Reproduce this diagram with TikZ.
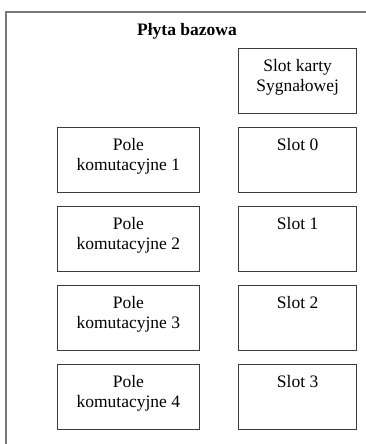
\documentclass[tikz,border=0pt]{standalone}
\usepackage{fontspec}
\setmainfont{Liberation Serif}
\usetikzlibrary{positioning}
\definecolor{framecolor}{RGB}{120,120,120}
\definecolor{boxcolor}{RGB}{60,60,60}

\begin{document}
\begin{tikzpicture}[x=1pt, y=-1pt,
    % Styles
    slot box/.style={draw=boxcolor, line width=1.3pt, minimum width=118pt, minimum height=65pt, inner sep=0},
    field box/.style={slot box, minimum width=142pt},
    box label/.style={font=\fontsize{17.5}{20.5}\selectfont, align=center, inner sep=0},
    board title/.style={font=\fontsize{17.5}{20}\selectfont\bfseries},
    board line/.style={draw=framecolor, line width=1.5pt},
    row gap/.style={below=12.7pt of #1},
]
    \useasboundingbox (0,0) rectangle (366,444);

    % === Board frame (runs off the right and bottom edge) ===
    \draw[board line] (370,12) -- (6,12) -- (6,448);
    \node[board title] (board-title) at (187,31) {Płyta bazowa};

    % === Slot column ===
    \node[slot box, anchor=north west] (slot-sig) at (238,48) {};
    \node[slot box, row gap=slot-sig] (slot-0) {};
    \node[slot box, row gap=slot-0] (slot-1) {};
    \node[slot box, row gap=slot-1] (slot-2) {};
    \node[slot box, row gap=slot-2] (slot-3) {};
    \node[box label, below=11pt of slot-sig.north] {Slot karty\\Sygnałowej};
    \node[box label, below=11pt of slot-0.north] {Slot 0};
    \node[box label, below=11pt of slot-1.north] {Slot 1};
    \node[box label, below=11pt of slot-2.north] {Slot 2};
    \node[box label, below=11pt of slot-3.north] {Slot 3};

    % === Switching fields, left of slots 0-3 ===
    \node[field box, left=38pt of slot-0] (field-1) {};
    \node[field box, left=38pt of slot-1] (field-2) {};
    \node[field box, left=38pt of slot-2] (field-3) {};
    \node[field box, left=38pt of slot-3] (field-4) {};
    \node[box label, below=11pt of field-1.north] {Pole\\komutacyjne 1};
    \node[box label, below=11pt of field-2.north] {Pole\\komutacyjne 2};
    \node[box label, below=11pt of field-3.north] {Pole\\komutacyjne 3};
    \node[box label, below=11pt of field-4.north] {Pole\\komutacyjne 4};
\end{tikzpicture}
\end{document}
